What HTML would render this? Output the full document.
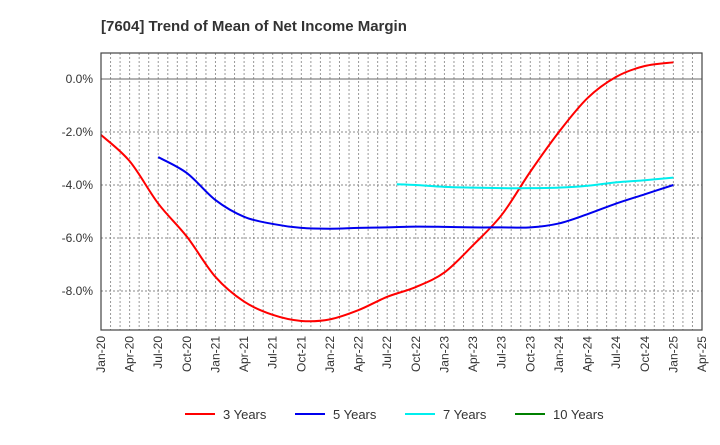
<!DOCTYPE html>
<html><head><meta charset="utf-8"><style>
body{margin:0;background:#fff;font-family:"Liberation Sans",sans-serif}
svg text{font-family:"Liberation Sans",sans-serif}
</style></head><body>
<svg id="c" width="720" height="440" xmlns="http://www.w3.org/2000/svg">
<text x="101" y="31" font-size="15" font-weight="bold" fill="#333">[7604]  Trend of Mean of Net Income Margin</text>
<g id="grid"></g><g id="series"></g><g id="axes"></g><g id="legend"></g>
</svg>
<script>
const xLabels=["Jan-20","Apr-20","Jul-20","Oct-20","Jan-21","Apr-21","Jul-21","Oct-21","Jan-22","Apr-22","Jul-22","Oct-22","Jan-23","Apr-23","Jul-23","Oct-23","Jan-24","Apr-24","Jul-24","Oct-24","Jan-25","Apr-25"];
const yTicks=[0,-2,-4,-6,-8];
const yTickLabels=["0.0%","-2.0%","-4.0%","-6.0%","-8.0%"];
const m3=[0,3,6,9,12,15,18,21,24,27,30,33,36,39,42,45,48,51,54,57,60];
const v3=[-2.11,-3.1,-4.7,-5.95,-7.47,-8.4,-8.9,-9.13,-9.07,-8.72,-8.22,-7.85,-7.3,-6.27,-5.13,-3.5,-2.0,-0.72,0.08,0.49,0.63];
const m5=[6,9,12,15,18,21,24,27,30,33,36,39,42,45,48,51,54,57,60];
const v5=[-2.95,-3.55,-4.57,-5.2,-5.47,-5.62,-5.65,-5.62,-5.6,-5.57,-5.58,-5.6,-5.6,-5.6,-5.45,-5.1,-4.7,-4.35,-4.0];
const m7=[31,33,36,39,42,45,48,51,54,57,60];
const v7=[-3.97,-4.0,-4.07,-4.1,-4.12,-4.12,-4.1,-4.03,-3.9,-3.82,-3.72];
const m10=[];const v10=[];
const L=101,R=702,T=53,B=330;
const xs=m=>L+m*(R-L)/63;
const ys=v=>79-v*26.5;
const NS="http://www.w3.org/2000/svg";
function mk(t,a,p){const e=document.createElementNS(NS,t);for(const k in a)e.setAttribute(k,a[k]);p.appendChild(e);return e;}
const grid=document.getElementById('grid'),axes=document.getElementById('axes'),ser=document.getElementById('series'),leg=document.getElementById('legend');
for(let m=1;m<63;m++){const l=mk('line',{x1:xs(m),x2:xs(m),y1:T,y2:B,stroke:'#999','stroke-dasharray':'2,2','stroke-width':1},grid);

}
yTicks.forEach((v,i)=>{const l=mk('line',{x1:L,x2:R,y1:ys(v),y2:ys(v),stroke:v===0?'#666':'#888','stroke-dasharray':v===0?'none':'2,2','stroke-width':1},grid);


const t=mk('text',{x:93,y:ys(v)+4,'text-anchor':'end','font-size':12,fill:'#333'},axes);t.textContent=yTickLabels[i];

});
xLabels.forEach((s,i)=>{const x=xs(i*3);const t=mk('text',{x:0,y:0,transform:`translate(${x+4},336) rotate(-90)`,'text-anchor':'end','font-size':12,fill:'#333'},axes);t.textContent=s;

});
const fr=mk('rect',{x:L,y:T,width:R-L,height:B-T,fill:'none',stroke:'#444','stroke-width':1.2},axes);


function path(ms,vs){if(!ms.length)return'';const p=ms.map((m,i)=>[xs(m),ys(vs[i])]);let d=`M${p[0][0]},${p[0][1]}`;
for(let i=0;i<p.length-1;i++){const p0=p[i-1]||p[i],p1=p[i],p2=p[i+1],p3=p[i+2]||p2;
d+=` C${p1[0]+(p2[0]-p0[0])/6},${p1[1]+(p2[1]-p0[1])/6} ${p2[0]-(p3[0]-p1[0])/6},${p2[1]-(p3[1]-p1[1])/6} ${p2[0]},${p2[1]}`;}return d;}
const S=[["3 Years",m3,v3,"#ff0000","line-3-years"],["5 Years",m5,v5,"#0000ee","line-5-years"],["7 Years",m7,v7,"#00eeee","line-7-years"],["10 Years",m10,v10,"#008000","line-10-years"]];
S.forEach((s,i)=>{const p=mk('path',{d:path(s[1],s[2]),fill:'none',stroke:s[3],'stroke-width':2},ser);


const x0=185+i*110;
const g=mk('g',{},leg);


mk('line',{x1:x0,x2:x0+30,y1:414,y2:414,stroke:s[3],'stroke-width':2},g);
const t=mk('text',{x:x0+38,y:419,'font-size':13,fill:'#333'},g);t.textContent=s[0];});
</script>
</body></html>
